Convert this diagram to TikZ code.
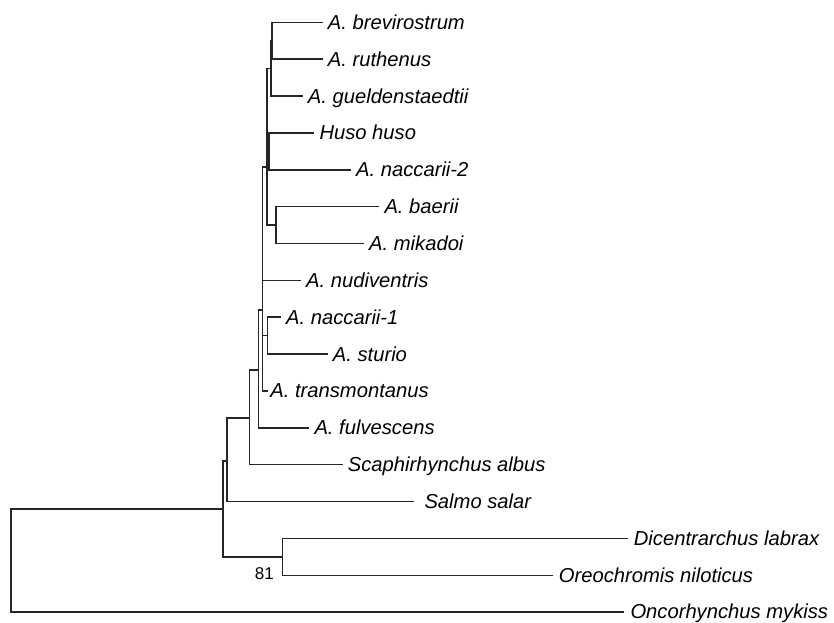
\documentclass[tikz,border=0pt]{standalone}
\usepackage{fontspec}
\setmainfont{Liberation Sans}
\begin{document}
\begin{tikzpicture}[x=1pt,y=-1pt,
  branch/.style={line width=1.6pt, draw=black!85, line cap=rect},
  taxon/.style={anchor=base west, inner sep=0pt, font=\fontsize{20.2}{21}\selectfont\itshape, text=black},
  support/.style={anchor=base east, inner sep=0pt, font=\fontsize{17}{18}\selectfont, text=black}]
\useasboundingbox (0,0) rectangle (834,622);
% tips (end of branch)
\coordinate (t1) at (321.7,22.3);
\coordinate (t2) at (321.7,59.2);
\coordinate (t3) at (301.7,96.0);
\coordinate (t4) at (313.3,132.9);
\coordinate (t5) at (350.0,169.7);
\coordinate (t6) at (378.3,206.6);
\coordinate (t7) at (363.0,243.4);
\coordinate (t8) at (300.0,280.3);
\coordinate (t9) at (280.0,317.1);
\coordinate (t10) at (326.7,354.0);
\coordinate (t11) at (266.7,390.8);
\coordinate (t12) at (308.3,427.7);
\coordinate (t13) at (341.7,464.5);
\coordinate (t14) at (413.3,501.4);
\coordinate (t15) at (626.7,538.6);
\coordinate (t16) at (551.7,575.4);
\coordinate (t17) at (623.3,611.9);
% internal nodes
\coordinate (n12) at (271.7,40.7);
\coordinate (n123) at (270.7,68.4);
\coordinate (n45) at (269.0,151.3);
\coordinate (n67) at (276.0,225.0);
\coordinate (G) at (266.7,167.0);
\coordinate (X) at (267.3,335.5);
\coordinate (W) at (262.3,310.0);
\coordinate (T) at (258.3,370.0);
\coordinate (S) at (249.3,418.0);
\coordinate (R) at (226.7,461.0);
\coordinate (P) at (282.3,557.0);
\coordinate (Q) at (222.7,509.0);
\coordinate (root) at (10.7,560.0);
% branches
\draw[branch] (t1) -| (n12) |- (t2);
\draw[branch] (n12) -| (n123) |- (t3);
\draw[branch] (t4) -| (n45) |- (t5);
\draw[branch] (t6) -| (n67) |- (t7);
\draw[branch] (n123) -| (G) |- (n67);
\draw[branch] (n45) -- (n45 -| G);
\draw[branch] (t9) -| (X) |- (t10);
\draw[branch] (G) -| (W) |- (t11);
\draw[branch] (t8) -- (t8 -| W);
\draw[branch] (X) -- (X -| W);
\draw[branch] (W) -| (T) |- (t12);
\draw[branch] (T) -| (S) |- (t13);
\draw[branch] (S) -| (R) |- (t14);
\draw[branch] (R) -| (Q) |- (P);
\draw[branch] (t15) -| (P) |- (t16);
\draw[branch] (Q) -| (root) |- (t17);
% labels
\node[taxon] (l1) at ([xshift=6pt,yshift=-7pt]t1) {A.\ brevirostrum};
\node[taxon] (l2) at ([xshift=6pt,yshift=-7pt]t2) {A.\ ruthenus};
\node[taxon] (l3) at ([xshift=6pt,yshift=-7pt]t3) {A.\ gueldenstaedtii};
\node[taxon] (l4) at ([xshift=6pt,yshift=-7pt]t4) {Huso huso};
\node[taxon] (l5) at ([xshift=6pt,yshift=-7pt]t5) {A.\ naccarii-2};
\node[taxon] (l6) at ([xshift=6pt,yshift=-7pt]t6) {A.\ baerii};
\node[taxon] (l7) at ([xshift=6pt,yshift=-7pt]t7) {A.\ mikadoi};
\node[taxon] (l8) at ([xshift=6pt,yshift=-7pt]t8) {A.\ nudiventris};
\node[taxon] (l9) at ([xshift=6pt,yshift=-7pt]t9) {A.\ naccarii-1};
\node[taxon] (l10) at ([xshift=6pt,yshift=-7pt]t10) {A.\ sturio};
\node[taxon] (l11) at ([xshift=3.5pt,yshift=-7pt]t11) {A.\ transmontanus};
\node[taxon] (l12) at ([xshift=6pt,yshift=-7pt]t12) {A.\ fulvescens};
\node[taxon] (l13) at ([xshift=6pt,yshift=-7pt]t13) {Scaphirhynchus albus};
\node[taxon] (l14) at ([xshift=11pt,yshift=-7pt]t14) {Salmo salar};
\node[taxon] (l15) at ([xshift=7pt,yshift=-7pt]t15) {Dicentrarchus labrax};
\node[taxon] (l16) at ([xshift=7pt,yshift=-7pt]t16) {Oreochromis niloticus};
\node[taxon] (l17) at ([xshift=7pt,yshift=-7pt]t17) {Oncorhynchus mykiss};
\node[support] (b81) at (274,579.5) {81};
\end{tikzpicture}
\end{document}
